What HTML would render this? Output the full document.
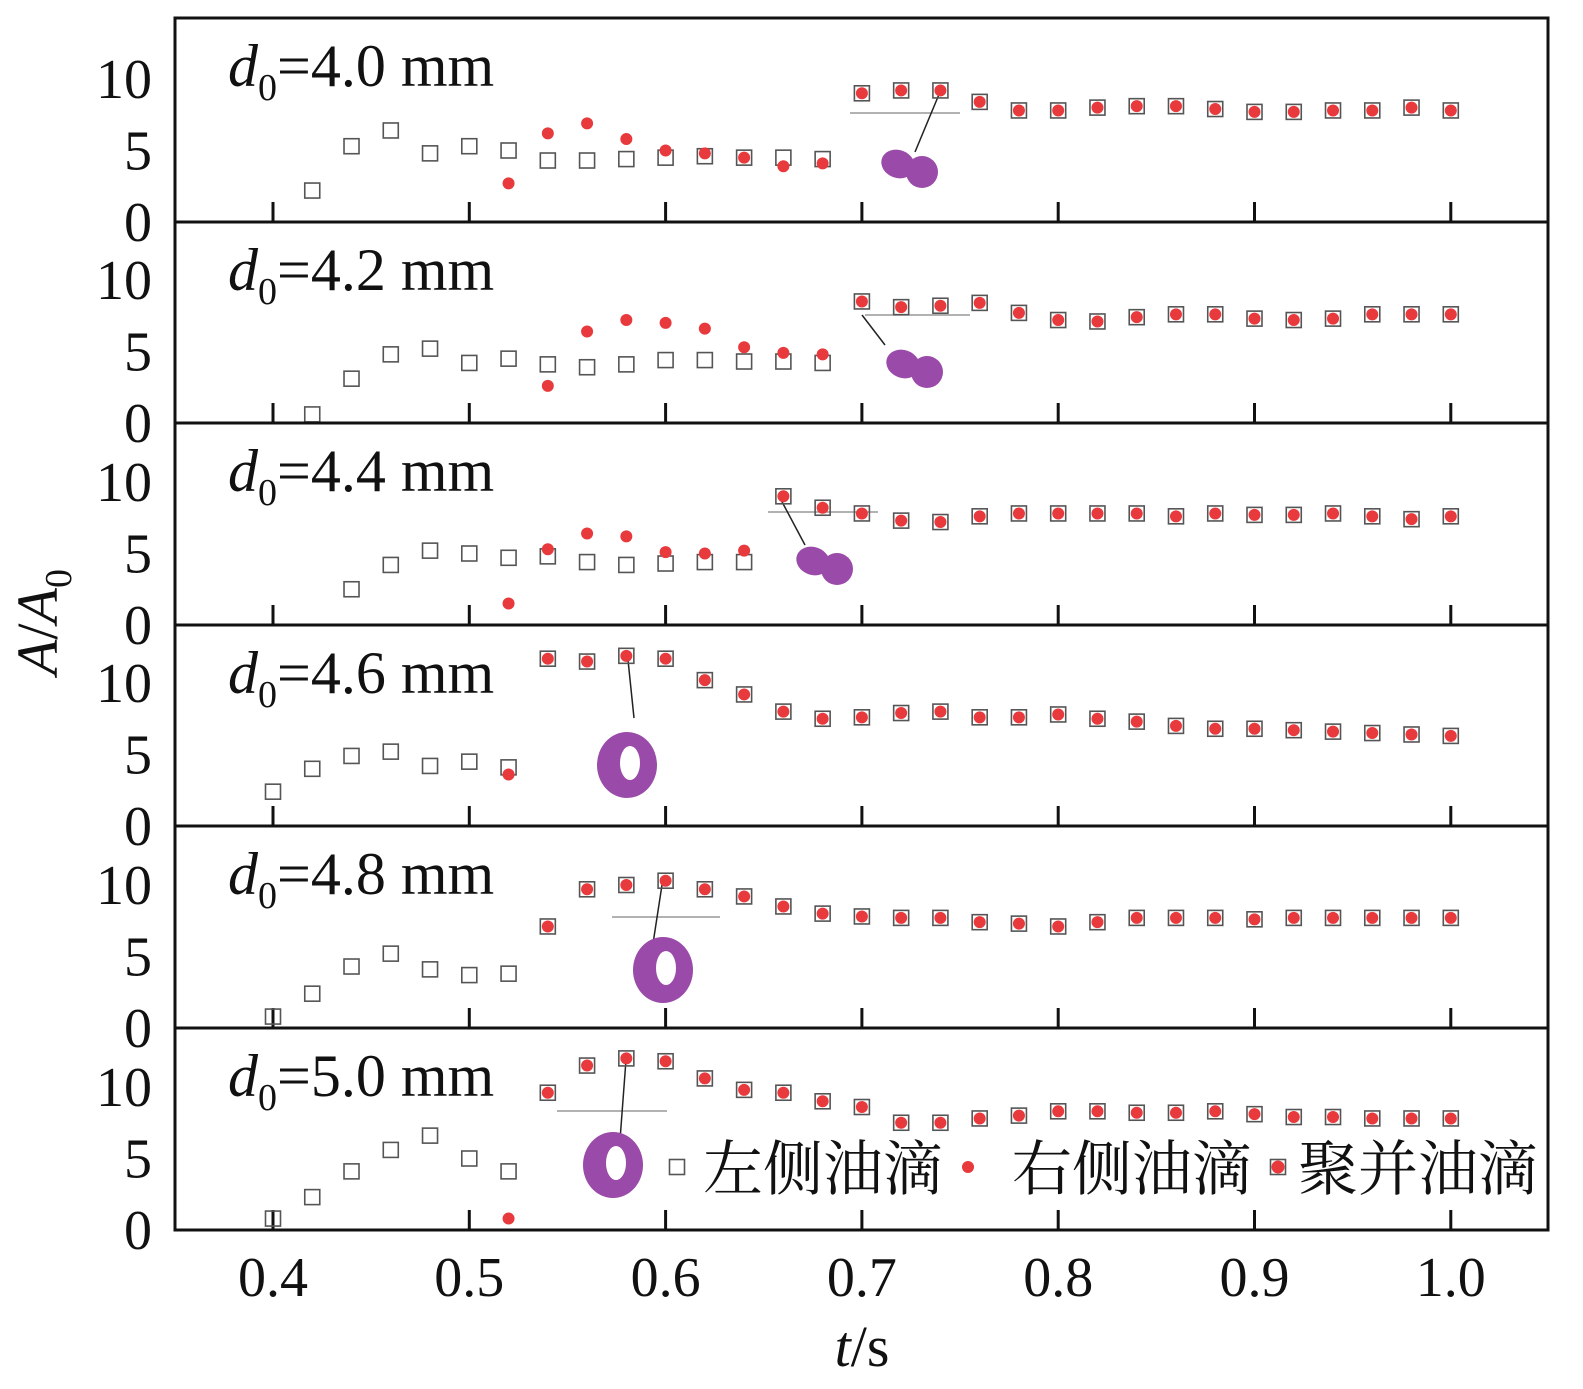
<!DOCTYPE html>
<html><head><meta charset="utf-8"><style>
body{margin:0;background:#fff}
svg{display:block}
text{font-family:"Liberation Serif","Noto Serif CJK SC",serif;fill:#111}
</style></head><body>
<svg id="c" width="1583" height="1389" viewBox="0 0 1583 1389"></svg>
<script>
const times=[0.40,0.42,0.44,0.46,0.48,0.50,0.52,0.54,0.56,0.58,0.60,0.62,0.64,0.66,0.68,0.70,0.72,0.74,0.76,0.78,0.80,0.82,0.84,0.86,0.88,0.90,0.92,0.94,0.96,0.98,1.00];
const xTicks=[0.4,0.5,0.6,0.7,0.8,0.9,1.0];
const xTickLabels=["0.4","0.5","0.6","0.7","0.8","0.9","1.0"];
const yTicks=[0,5,10];
const panelLabels=["4.0","4.2","4.4","4.6","4.8","5.0"];
const leftStart=[1,1,2,0,0,0];
const left=[
[2.2,5.3,6.4,4.8,5.3,5.0,4.3,4.3,4.4,4.5,4.6,4.5,4.5,4.4],
[0.6,3.1,4.8,5.2,4.2,4.5,4.1,3.9,4.1,4.4,4.4,4.3,4.3,4.2],
[2.5,4.2,5.2,5.0,4.7,4.8,4.4,4.2,4.3,4.4,4.4],
[2.4,4.0,4.9,5.2,4.2,4.5,4.1],
[0.8,2.4,4.3,5.2,4.1,3.7,3.8],
[0.8,2.3,4.1,5.6,6.6,5.0,4.1]];
const rightStart=[6,7,6,6,0,6];
const right=[
[2.7,6.2,6.9,5.8,5.0,4.8,4.5,3.9,4.1],
[2.6,6.4,7.2,7.0,6.6,5.3,4.9,4.8],
[1.5,5.3,6.4,6.2,5.1,5.0,5.2],
[3.6],
[],
[0.8]];
const mergedStart=[15,15,13,7,7,7];
const merged=[
[9.0,9.2,9.2,8.4,7.8,7.8,8.0,8.1,8.1,7.9,7.7,7.7,7.8,7.8,8.0,7.8],
[8.5,8.1,8.2,8.4,7.7,7.2,7.1,7.4,7.6,7.6,7.3,7.2,7.3,7.6,7.6,7.6],
[9.0,8.2,7.8,7.3,7.2,7.6,7.8,7.8,7.8,7.8,7.6,7.8,7.7,7.7,7.8,7.6,7.4,7.6],
[11.7,11.5,11.9,11.7,10.2,9.2,8.0,7.5,7.6,7.9,8.0,7.6,7.6,7.8,7.5,7.3,7.0,6.8,6.8,6.7,6.6,6.5,6.4,6.3],
[7.1,9.7,10.0,10.3,9.7,9.2,8.5,8.0,7.8,7.7,7.7,7.4,7.3,7.1,7.4,7.7,7.7,7.7,7.6,7.7,7.7,7.7,7.7,7.7],
[9.6,11.5,12.0,11.8,10.6,9.8,9.6,9.0,8.6,7.5,7.5,7.8,8.0,8.3,8.3,8.2,8.2,8.3,8.1,7.9,7.9,7.8,7.8,7.8]];

const svg=document.getElementById('c');const NS='http://www.w3.org/2000/svg';
function mk(tag,attrs,parent){const e=document.createElementNS(NS,tag);for(const k in attrs)e.setAttribute(k,attrs[k]);(parent||svg).appendChild(e);return e;}
const L=175,R=1548,bounds=[18,222,423,625,826,1028,1230];
const xs=t=>273+(t-0.4)*1963;
function ys(p,v){return bounds[p+1]-v*14.3;}

const blobs=[[910,168,0],[915,368,0],[825,565,0],[627,765,1],[663,970,1],[613,1165,1]];
const lines=[[850,113,960,113,940,92,915,152],[865,315,970,315,862,315,885,345],[768,512,878,512,780,498,805,545],[0,0,0,0,628,660,634,718],[612,917,720,917,662,885,652,950],[557,1111,667,1111,626,1060,620,1140]];
for(let p=0;p<6;p++){
  const g=mk('g',{},svg);
  
  
  const ln=lines[p];
  if(ln[0]) mk('line',{x1:ln[0],y1:ln[1],x2:ln[2],y2:ln[3],stroke:'#999','stroke-width':1.5},g);
  mk('line',{x1:ln[4],y1:ln[5],x2:ln[6],y2:ln[7],stroke:'#222','stroke-width':1.5},g);
  const b=blobs[p];
  if(b[2]==0){
    mk('ellipse',{cx:b[0]-12,cy:b[1]-4,rx:17,ry:14,fill:'#9a4aa8',transform:`rotate(20 ${b[0]-12} ${b[1]-4})`},g);
    mk('ellipse',{cx:b[0]+12,cy:b[1]+4,rx:16,ry:16,fill:'#9a4aa8'},g);
  } else {
    mk('ellipse',{cx:b[0],cy:b[1],rx:30,ry:33,fill:'#9a4aa8'},g);
    mk('ellipse',{cx:b[0]+3,cy:b[1]-2,rx:10,ry:17,fill:'#fff'},g);
  }
  xTicks.forEach(t=>{mk('line',{x1:xs(t),x2:xs(t),y1:bounds[p+1],y2:bounds[p+1]-20,stroke:'#111','stroke-width':3},g);});
  yTicks.forEach(v=>{const tx=mk('text',{x:152,y:ys(p,v)+19,'font-size':56,'text-anchor':'end'},g);tx.textContent=v;});
  const tl=mk('text',{x:228,y:bounds[p]+68,'font-size':60},g);
  
  tl.innerHTML=`<tspan font-style="italic">d</tspan><tspan dy="14" font-size="38">0</tspan><tspan dy="-14">=${panelLabels[p]} mm</tspan>`;
  left[p].forEach((v,i)=>{const r=mk('rect',{x:xs(times[leftStart[p]+i])-7.5,y:ys(p,v)-7.5,width:15,height:15,fill:'none',stroke:'#555','stroke-width':1.6},g);
    });
  right[p].forEach((v,i)=>{const c=mk('circle',{cx:xs(times[rightStart[p]+i]),cy:ys(p,v),r:6,fill:'#e8393c'},g);
    });
  merged[p].forEach((v,i)=>{const x=xs(times[mergedStart[p]+i]),y=ys(p,v);
    const r=mk('rect',{x:x-7.5,y:y-7.5,width:15,height:15,fill:'none',stroke:'#555','stroke-width':1.6},g);
    
    mk('circle',{cx:x,cy:y,r:6,fill:'#e8393c'},g);});
}
for(let p=1;p<6;p++) mk('line',{x1:L,x2:R,y1:bounds[p],y2:bounds[p],stroke:'#111','stroke-width':3});
mk('rect',{x:L,y:18,width:R-L,height:1230-18,fill:'none',stroke:'#111','stroke-width':3});
xTicks.forEach((t,i)=>{const tx=mk('text',{x:xs(t),y:1296,'font-size':56,'text-anchor':'middle'});tx.textContent=xTickLabels[i];
  });
const xt=mk('text',{x:862,y:1366,'font-size':58,'text-anchor':'middle'});

xt.innerHTML='<tspan font-style="italic">t</tspan>/s';
const yt=mk('text',{x:0,y:0,'font-size':58,'text-anchor':'middle',transform:'translate(57,622) rotate(-90)'});

yt.innerHTML='<tspan font-style="italic">A</tspan>/<tspan font-style="italic">A</tspan><tspan dy="14" font-size="38">0</tspan>';
const lg=mk('g',{});
mk('rect',{x:669.5,y:1159.5,width:15,height:15,fill:'none',stroke:'#555','stroke-width':1.6},lg);
let t1=mk('text',{x:703,y:1190,'font-size':60},lg);t1.textContent='左侧油滴';
mk('circle',{cx:968,cy:1167,r:6,fill:'#e8393c'},lg);
let t2=mk('text',{x:1012,y:1190,'font-size':60},lg);t2.textContent='右侧油滴';
mk('rect',{x:1270.5,y:1159.5,width:15,height:15,fill:'none',stroke:'#555','stroke-width':1.6},lg);
mk('circle',{cx:1278,cy:1167,r:6.5,fill:'#e8393c'},lg);
let t3=mk('text',{x:1298,y:1190,'font-size':60},lg);t3.textContent='聚并油滴';
</script>
</body></html>
